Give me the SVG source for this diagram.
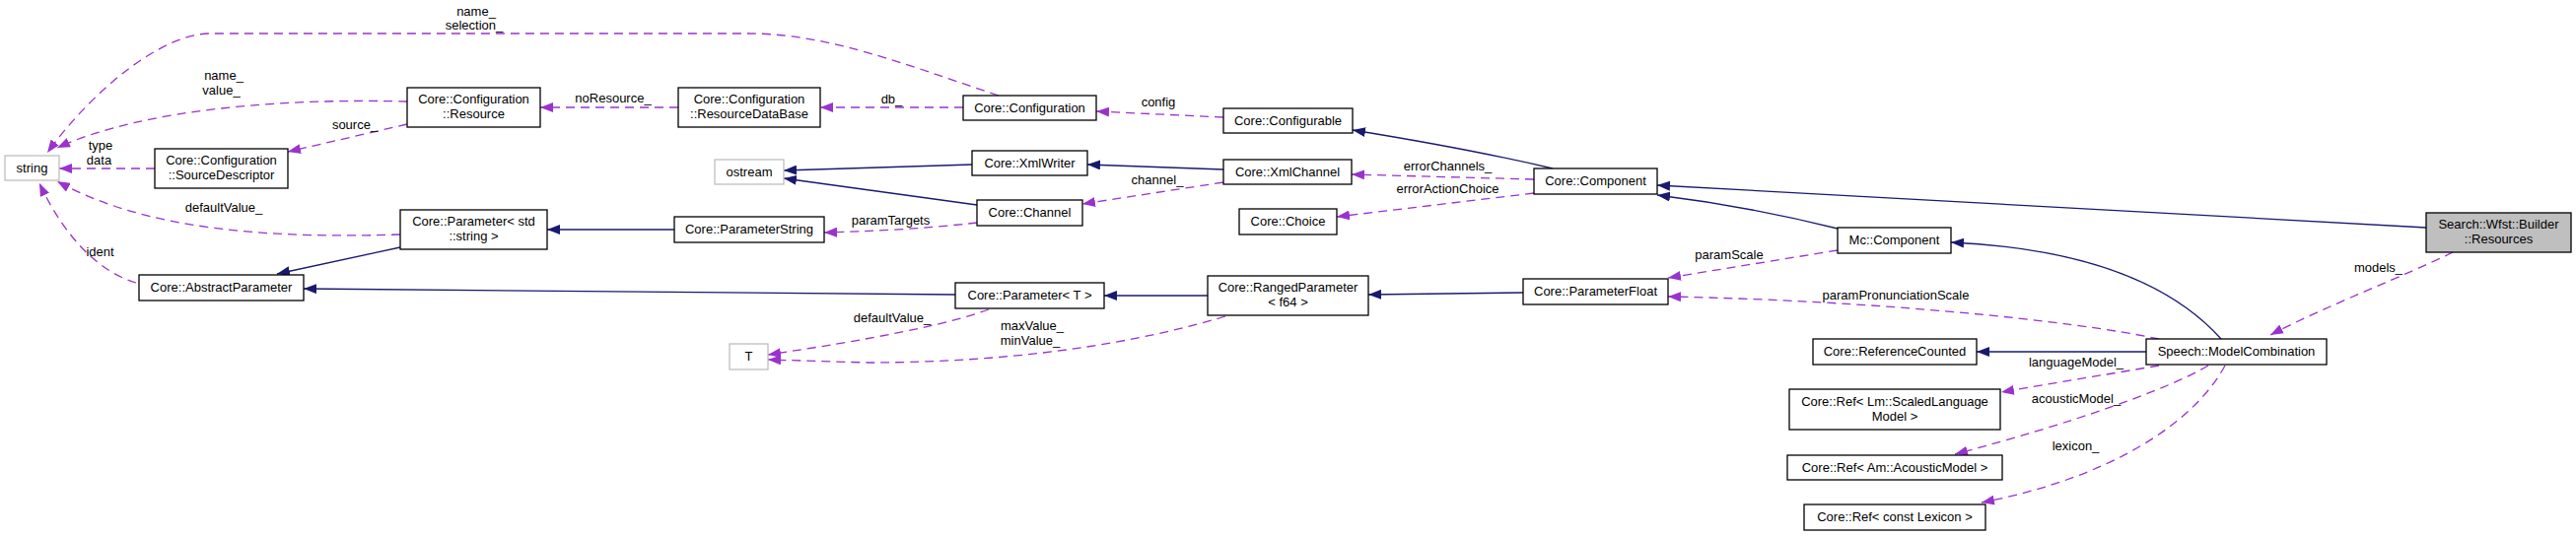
<svg xmlns="http://www.w3.org/2000/svg" width="2613" height="544" viewBox="0 0 2613 544">
<style>
text{font-family:"Liberation Sans",Arial,Helvetica,sans-serif;font-size:13px;fill:#000}
.n text{text-anchor:middle}
.box{fill:#fff;stroke:#000;stroke-width:1.3}
.ext{fill:#fff;stroke:#bfbfbf;stroke-width:1.3}
.cur{fill:#bfbfbf;stroke:#000;stroke-width:1.3}
.inh{fill:none;stroke:#191970;stroke-width:1.3;marker-end:url(#ab)}
.use{fill:none;stroke:#9a32cd;stroke-width:1.3;stroke-dasharray:9,6;marker-end:url(#ap)}
.lbl text{text-anchor:middle}
</style>
<defs>
<marker id="ab" markerUnits="userSpaceOnUse" viewBox="0 0 13 10" refX="13" refY="5" markerWidth="13" markerHeight="10" orient="auto"><path d="M0,0L13,5L0,10z" fill="#191970"/></marker>
<marker id="ap" markerUnits="userSpaceOnUse" viewBox="0 0 13 10" refX="13" refY="5" markerWidth="13" markerHeight="10" orient="auto"><path d="M0,0L13,5L0,10z" fill="#9a32cd"/></marker>
</defs>
<rect width="2613" height="544" fill="#fff"/>
<g id="connectors">
<path class="inh" d="M406,251L281,278"/>
<path class="inh" d="M969,299L308,293"/>
<path class="inh" d="M684,233L555,233"/>
<path class="inh" d="M986,167L795,173"/>
<path class="inh" d="M991,208L795,181"/>
<path class="inh" d="M1241,172L1103,167"/>
<path class="inh" d="M1575,171C1520,158 1440,143 1372,132"/>
<path class="inh" d="M1864,232C1800,216 1730,204 1681,198"/>
<path class="inh" d="M2461,231L1681,188"/>
<path class="inh" d="M2253,344C2200,285 2110,252 1979,246"/>
<path class="inh" d="M1225,300L1120,300"/>
<path class="inh" d="M1545,297L1388,299"/>
<path class="inh" d="M2177,357L2005,357"/>
<path class="use" d="M1013,97C920,66 840,34 760,34L213,34C165,34 95,90 48,155"/>
<path class="use" d="M413,103C300,100 150,108 58,150"/>
<path class="use" d="M157,171L60,171"/>
<path class="use" d="M413,126L292,154"/>
<path class="use" d="M406,238C280,242 150,235 58,184"/>
<path class="use" d="M138,287C100,276 65,240 40,186"/>
<path class="use" d="M688,109L548,109"/>
<path class="use" d="M977,109L832,109"/>
<path class="use" d="M1241,119L1112,113"/>
<path class="use" d="M1241,185L1098,207"/>
<path class="use" d="M991,226C940,232 880,235 836,236"/>
<path class="use" d="M1556,182L1371,177"/>
<path class="use" d="M1556,196L1356,220"/>
<path class="use" d="M1003,314C960,330 880,345 779,360"/>
<path class="use" d="M1243,321C1130,355 1000,368 880,368L779,365"/>
<path class="use" d="M1864,254L1692,282"/>
<path class="use" d="M2190,344C2100,325 1900,305 1692,301"/>
<path class="use" d="M2190,371L2030,398"/>
<path class="use" d="M2240,371C2200,395 2100,430 1983,461"/>
<path class="use" d="M2257,371C2225,430 2140,485 2010,510"/>
<path class="use" d="M2488,256C2440,280 2360,310 2303,340"/>
<g class="lbl">
<text x="483" y="16">name_</text><text x="481" y="30">selection_</text>
<text x="227" y="81">name_</text><text x="224.5" y="96">value_</text>
<text x="102" y="152">type</text><text x="100.5" y="167">data</text>
<text x="360" y="131">source_</text>
<text x="227" y="215">defaultValue_</text>
<text x="101.5" y="260">ident</text>
<text x="622" y="104">noResource_</text>
<text x="904.5" y="105">db_</text>
<text x="1175" y="108">config</text>
<text x="1174" y="187">channel_</text>
<text x="903.5" y="228">paramTargets</text>
<text x="1468.5" y="173">errorChannels_</text>
<text x="1468.5" y="196">errorActionChoice</text>
<text x="905" y="327">defaultValue_</text>
<text x="1047" y="335">maxValue_</text><text x="1045" y="350">minValue_</text>
<text x="1754" y="263">paramScale</text>
<text x="1923" y="304">paramPronunciationScale</text>
<text x="2106" y="372">languageModel_</text>
<text x="2106" y="409">acousticModel_</text>
<text x="2105.5" y="457">lexicon_</text>
<text x="2412.5" y="276">models_</text>
</g>
</g>
<g id="n_string" class="n"><rect class="ext" x="5" y="158" width="55" height="25"/><text x="32.5" y="175">string</text></g>
<g id="n_resource" class="n"><rect class="box" x="413" y="89" width="135" height="40"/><text x="480.5" y="105">Core::Configuration</text><text x="480.5" y="120">::Resource</text></g>
<g id="n_sourcedesc" class="n"><rect class="box" x="157" y="151" width="135" height="40"/><text x="224.5" y="167">Core::Configuration</text><text x="224.5" y="182">::SourceDescriptor</text></g>
<g id="n_paramstd" class="n"><rect class="box" x="406" y="213" width="149" height="40"/><text x="480.5" y="229">Core::Parameter&lt; std</text><text x="480.5" y="244">::string &gt;</text></g>
<g id="n_abstractparam" class="n"><rect class="box" x="141" y="279" width="167" height="26"/><text x="224.5" y="296">Core::AbstractParameter</text></g>
<g id="n_resourcedb" class="n"><rect class="box" x="688" y="89" width="144" height="40"/><text x="760" y="105">Core::Configuration</text><text x="760" y="120">::ResourceDataBase</text></g>
<g id="n_ostream" class="n"><rect class="ext" x="725" y="162" width="70" height="25"/><text x="760" y="179">ostream</text></g>
<g id="n_paramstring" class="n"><rect class="box" x="684" y="220" width="152" height="26"/><text x="760" y="237">Core::ParameterString</text></g>
<g id="n_T" class="n"><rect class="ext" x="740" y="349" width="39" height="26"/><text x="759.5" y="366">T</text></g>
<g id="n_configuration" class="n"><rect class="box" x="977" y="97" width="135" height="25"/><text x="1044.5" y="114">Core::Configuration</text></g>
<g id="n_xmlwriter" class="n"><rect class="box" x="986" y="153" width="117" height="25"/><text x="1044.5" y="170">Core::XmlWriter</text></g>
<g id="n_channel" class="n"><rect class="box" x="991" y="203" width="107" height="26"/><text x="1044.5" y="220">Core::Channel</text></g>
<g id="n_paramT" class="n"><rect class="box" x="969" y="287" width="151" height="26"/><text x="1044.5" y="304">Core::Parameter&lt; T &gt;</text></g>
<g id="n_configurable" class="n"><rect class="box" x="1241" y="110" width="131" height="25"/><text x="1306.5" y="127">Core::Configurable</text></g>
<g id="n_xmlchannel" class="n"><rect class="box" x="1241" y="162" width="130" height="25"/><text x="1306" y="179">Core::XmlChannel</text></g>
<g id="n_choice" class="n"><rect class="box" x="1257" y="212" width="99" height="26"/><text x="1306.5" y="229">Core::Choice</text></g>
<g id="n_ranged" class="n"><rect class="box" x="1225" y="280" width="163" height="40"/><text x="1306.5" y="296">Core::RangedParameter</text><text x="1306.5" y="311">&lt; f64 &gt;</text></g>
<g id="n_component" class="n"><rect class="box" x="1556" y="171" width="125" height="26"/><text x="1618.5" y="188">Core::Component</text></g>
<g id="n_paramfloat" class="n"><rect class="box" x="1545" y="283" width="147" height="26"/><text x="1618.5" y="300">Core::ParameterFloat</text></g>
<g id="n_mccomponent" class="n"><rect class="box" x="1864" y="231" width="115" height="26"/><text x="1921.5" y="248">Mc::Component</text></g>
<g id="n_refcounted" class="n"><rect class="box" x="1839" y="344" width="166" height="26"/><text x="1922" y="361">Core::ReferenceCounted</text></g>
<g id="n_reflm" class="n"><rect class="box" x="1815" y="395" width="214" height="41"/><text x="1922" y="411.5">Core::Ref&lt; Lm::ScaledLanguage</text><text x="1922" y="426.5">Model &gt;</text></g>
<g id="n_refam" class="n"><rect class="box" x="1813" y="462" width="218" height="25"/><text x="1922" y="479">Core::Ref&lt; Am::AcousticModel &gt;</text></g>
<g id="n_reflex" class="n"><rect class="box" x="1830" y="512" width="184" height="26"/><text x="1922" y="529">Core::Ref&lt; const Lexicon &gt;</text></g>
<g id="n_modelcomb" class="n"><rect class="box" x="2177" y="344" width="183" height="26"/><text x="2268.5" y="361">Speech::ModelCombination</text></g>
<g id="n_resources" class="n"><rect class="cur" x="2461" y="216" width="147" height="40"/><text x="2534.5" y="232">Search::Wfst::Builder</text><text x="2534.5" y="247">::Resources</text></g>
</svg>
